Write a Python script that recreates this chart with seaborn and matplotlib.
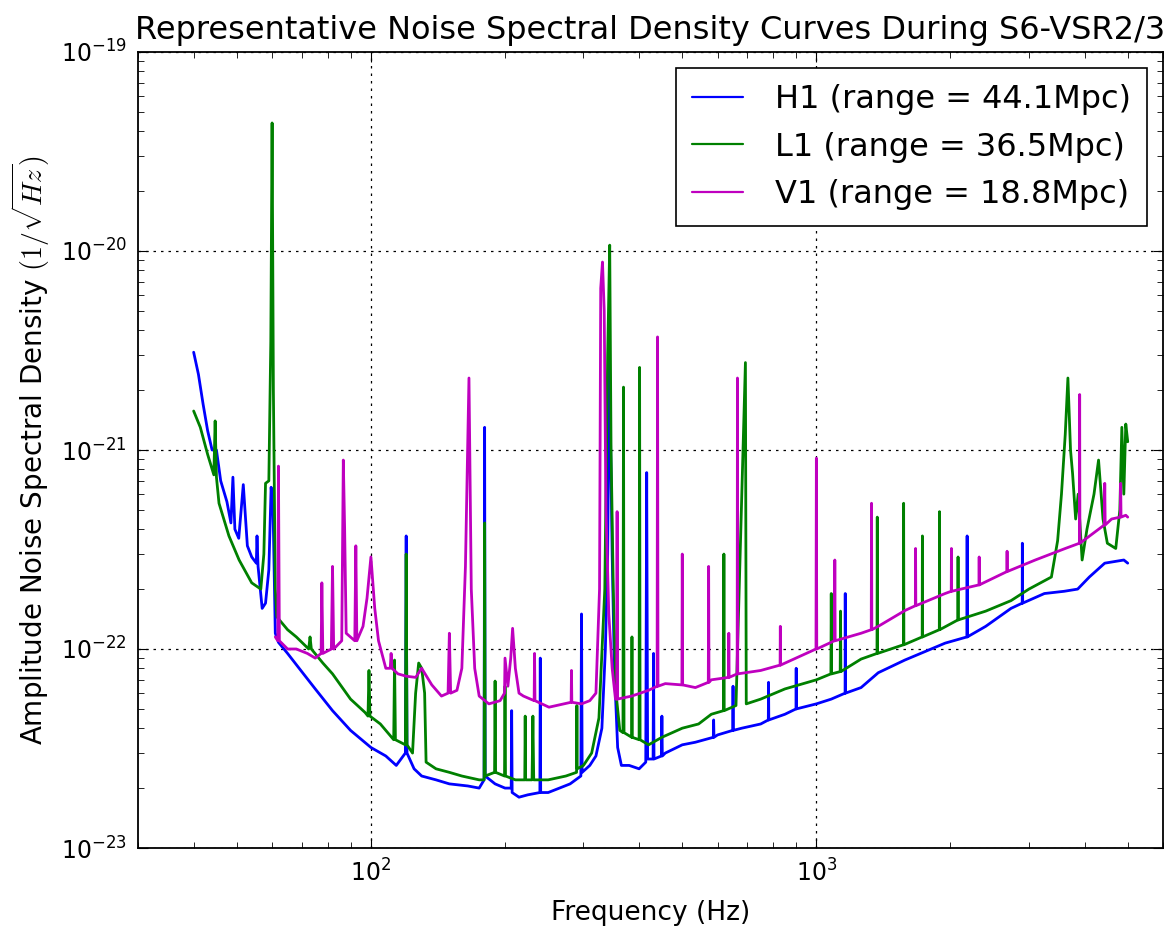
import numpy as np
import pandas as pd
import matplotlib
matplotlib.use("Agg")
import matplotlib.pyplot as plt
from matplotlib.ticker import NullFormatter
import seaborn as sns

# ---------------- data ----------------
h1_freq = [40, 41, 42, 43, 44, 45, 46, 47.5, 48.5, 49, 49.5, 50.5, 51.7, 52.8, 54, 55.3, 55.5, 55.8,
           57, 58, 59, 59.7, 60.3, 61, 62, 65, 69, 75, 82, 90, 100, 108, 114, 119.5, 120, 120.5,
           125, 130, 140, 150, 165, 175, 179.5, 180, 180.5, 190, 200, 206.5, 207, 207.5, 215, 225,
           239.5, 240, 240.5, 250, 265, 280, 296, 297, 298, 310, 320, 330, 336, 340, 343, 348, 352,
           358, 365, 380, 400, 414, 416, 418, 430, 431, 432, 449, 450, 451, 458, 500, 535, 587, 588,
           589, 600, 649, 650, 651, 680, 750, 780, 781, 782, 850, 900, 901, 902, 1000, 1080, 1160,
           1161, 1162.5, 1260, 1377, 1580, 1945, 2178, 2180, 2182, 2400, 2735, 2898, 2900, 2905,
           3250, 3600, 3860, 4100, 4440, 4900, 5000]
h1_asd = [3.1e-21, 2.4e-21, 1.7e-21, 1.25e-21, 1.0e-21, 1.0e-21, 7.0e-22, 5.5e-22, 4.3e-22, 7.3e-22,
          4.0e-22, 3.6e-22, 6.7e-22, 3.3e-22, 2.9e-22, 2.7e-22, 3.7e-22, 2.6e-22,
          1.6e-22, 1.7e-22, 2.5e-22, 6.5e-22, 5.0e-22, 1.2e-22, 1.08e-22, 9.5e-23, 8.0e-23, 6.3e-23,
          4.9e-23, 3.9e-23, 3.2e-23, 2.9e-23, 2.6e-23, 3.0e-23, 3.7e-22, 3.0e-23,
          2.5e-23, 2.3e-23, 2.2e-23, 2.1e-23, 2.05e-23, 2.0e-23, 2.2e-23, 1.3e-21, 2.3e-23, 2.1e-23,
          2.0e-23, 2.0e-23, 4.9e-23, 1.9e-23, 1.8e-23, 1.85e-23,
          1.9e-23, 9.0e-23, 1.9e-23, 1.9e-23, 2.0e-23, 2.1e-23, 2.3e-23, 1.5e-22, 2.4e-23, 2.6e-23,
          2.9e-23, 4.0e-23, 1.0e-22, 3.0e-22, 3.0e-21, 3.0e-22, 8.0e-23,
          3.2e-23, 2.6e-23, 2.6e-23, 2.5e-23, 2.7e-23, 7.7e-22, 2.8e-23, 2.8e-23, 9.5e-23, 2.8e-23,
          2.9e-23, 4.6e-23, 2.9e-23, 3.0e-23, 3.3e-23, 3.4e-23, 3.6e-23, 4.4e-23,
          3.6e-23, 3.7e-23, 3.9e-23, 6.5e-23, 3.9e-23, 4.0e-23, 4.2e-23, 4.4e-23, 6.8e-23, 4.4e-23,
          4.7e-23, 5.0e-23, 8.0e-23, 5.0e-23, 5.3e-23, 5.6e-23, 6.0e-23,
          1.9e-22, 6.0e-23, 6.4e-23, 7.6e-23, 8.8e-23, 1.07e-22, 1.15e-22, 3.7e-22, 1.15e-22, 1.3e-22,
          1.6e-22, 1.7e-22, 3.4e-22, 1.7e-22,
          1.9e-22, 1.95e-22, 2.0e-22, 2.3e-22, 2.7e-22, 2.8e-22, 2.7e-22]

l1_freq = [40, 41.4, 43, 44.4, 44.7, 45, 45.6, 48, 50.6, 54, 56.6, 57.5, 58, 59, 59.6, 60, 60.4, 61,
           61.5, 65, 68, 72.5, 73, 73.5, 78, 82, 90, 97, 98.5, 99, 99.5, 105, 112.5, 113, 113.5,
           119.5, 120, 120.5, 124, 126, 128, 130, 132, 133, 140, 150, 160, 175, 179.5, 180, 180.5,
           189.5, 190, 190.5, 199.5, 200, 200.5, 211, 221.5, 222, 222.5, 230, 231, 232, 250, 274,
           289.5, 290, 290.5, 300, 313, 325, 335, 340, 343.6, 346, 350, 355, 362, 368, 369, 370,
           385, 385.5, 386, 400, 401, 402, 420, 450, 500, 544, 581, 619, 620, 621, 660, 693, 696,
           750, 850, 1000, 1078, 1080, 1082, 1131, 1133, 1135, 1260, 1368, 1370, 1372, 1568, 1570,
           1572, 1728, 1730, 1732, 1888, 1890, 1892, 2078, 2080, 2082, 2400, 2735, 3000, 3370,
           3480, 3550, 3620, 3670, 3720, 3760, 3820, 3870, 3950, 4050, 4200, 4300, 4400, 4500,
           4700, 4800, 4850, 4900, 4950, 5000]
l1_asd = [1.57e-21, 1.3e-21, 9.5e-22, 7.5e-22, 1.4e-21, 7.3e-22, 5.4e-22, 3.7e-22, 2.8e-22, 2.15e-22,
          2.0e-22, 3.0e-22, 6.8e-22, 7.0e-22, 3.5e-21, 4.4e-20, 2.0e-21, 2.0e-22,
          1.45e-22, 1.25e-22, 1.15e-22, 1.0e-22, 1.15e-22, 1.0e-22, 8.5e-23, 7.5e-23, 5.6e-23, 4.8e-23,
          4.6e-23, 7.8e-23, 4.6e-23, 4.2e-23, 3.5e-23, 8.8e-23, 3.5e-23,
          3.3e-23, 3.0e-22, 3.3e-23, 3.0e-23, 6.0e-23, 8.5e-23, 8.0e-23, 6.0e-23, 2.7e-23, 2.5e-23,
          2.4e-23, 2.3e-23, 2.2e-23, 2.2e-23, 4.3e-22, 2.3e-23,
          2.4e-23, 6.9e-23, 2.4e-23, 2.3e-23, 6.5e-23, 2.3e-23, 2.2e-23, 2.2e-23, 4.6e-23, 2.2e-23,
          2.2e-23, 4.6e-23, 2.2e-23, 2.2e-23, 2.3e-23,
          2.4e-23, 5.2e-23, 2.5e-23, 2.6e-23, 3.0e-23, 4.5e-23, 2.0e-22, 3.0e-21, 1.07e-20, 1.0e-21,
          2.0e-22, 6.0e-23, 3.9e-23, 3.8e-23, 2.07e-21, 3.8e-23,
          3.6e-23, 1.15e-22, 3.6e-23, 3.5e-23, 2.6e-21, 3.5e-23, 3.3e-23, 3.6e-23, 4.0e-23, 4.2e-23,
          4.7e-23, 4.9e-23, 3.0e-22, 4.9e-23, 5.2e-23, 2.75e-21, 5.3e-23,
          5.6e-23, 6.3e-23, 7.0e-23, 7.5e-23, 1.9e-22, 7.5e-23, 7.7e-23, 1.55e-22, 7.7e-23, 8.9e-23,
          9.5e-23, 4.6e-22, 9.5e-23, 1.05e-22, 5.4e-22,
          1.05e-22, 1.15e-22, 3.7e-22, 1.15e-22, 1.25e-22, 4.9e-22, 1.25e-22, 1.4e-22, 2.9e-22,
          1.4e-22, 1.55e-22, 1.75e-22, 2.0e-22, 2.3e-22,
          3.5e-22, 6.0e-22, 1.2e-21, 2.3e-21, 1.0e-21, 7.6e-22, 4.5e-22, 6.0e-22, 2.8e-22, 4.0e-22,
          6.0e-22, 8.9e-22, 4.5e-22, 3.4e-22,
          3.2e-22, 5.0e-22, 1.3e-21, 6.0e-22, 1.35e-21, 1.1e-21]

v1_freq = [61, 61.8, 62, 62.3, 65, 68, 72, 75, 77.3, 77.6, 78, 81.5, 82, 82.5, 86, 86.7, 87.3, 88,
           92, 92.5, 93, 96, 98, 100, 102, 104, 108, 110.5, 111, 111.5, 115, 120, 126, 130, 137,
           144, 149, 150, 151, 156, 160, 163, 166, 168, 171, 175, 184, 195, 199.5, 200, 203, 206,
           208, 211, 215, 220, 232.5, 233, 233.5, 251, 281.5, 282, 282.5, 297, 310, 320, 326, 328,
           331, 334, 337, 342, 348, 354, 356.5, 357, 357.5, 385, 420, 439, 440, 441, 458, 499, 500,
           501, 535, 572, 573, 574, 581, 635, 636, 637, 664, 665, 666, 750, 829, 830, 831, 900,
           998, 1000, 1002, 1098, 1100, 1102, 1260, 1328, 1330, 1332, 1377, 1580, 1668, 1670,
           1672, 1945, 2008, 2010, 2012, 2318, 2320, 2322, 2678, 2680, 2682, 3100, 3620, 3895,
           3900, 3905, 4430, 4440, 4450, 4600, 4810, 4820, 4830, 4950, 5000]
v1_asd = [1.15e-22, 1.1e-22, 8.3e-22, 1.1e-22, 1.0e-22, 1.0e-22, 9.5e-23, 9.0e-23, 9.5e-23, 2.15e-22,
          9.5e-23, 1.0e-22, 2.6e-22, 1.0e-22, 1.1e-22, 8.9e-22, 4.0e-22, 1.2e-22,
          1.1e-22, 3.3e-22, 1.1e-22, 1.3e-22, 1.8e-22, 2.9e-22, 1.6e-22, 1.1e-22, 8.0e-23, 8.0e-23,
          9.5e-23, 8.0e-23, 7.5e-23, 7.3e-23, 7.2e-23, 8.0e-23, 6.6e-23,
          5.8e-23, 6.0e-23, 1.2e-22, 6.0e-23, 6.2e-23, 8.0e-23, 2.6e-22, 2.3e-21, 2.0e-22, 8.0e-23,
          5.8e-23, 5.3e-23, 5.5e-23, 6.0e-23, 9.0e-23, 6.5e-23, 9.0e-23,
          1.27e-22, 8.0e-23, 6.0e-23, 5.8e-23, 5.5e-23, 9.5e-23, 5.5e-23, 5.1e-23, 5.4e-23, 7.8e-23,
          5.4e-23, 5.3e-23, 5.5e-23, 6.0e-23, 2.0e-22, 6.5e-21,
          8.8e-21, 5.0e-21, 5.0e-22, 1.5e-22, 8.0e-23, 5.6e-23, 5.6e-23, 4.9e-22, 5.6e-23, 5.8e-23,
          6.2e-23, 6.5e-23, 3.7e-21, 6.5e-23, 6.7e-23, 6.6e-23, 3.0e-22,
          6.6e-23, 6.4e-23, 6.8e-23, 2.6e-22, 6.8e-23, 7.0e-23, 7.2e-23, 1.2e-22, 7.2e-23, 7.5e-23,
          2.3e-21, 7.5e-23, 7.8e-23, 8.3e-23, 1.3e-22, 8.3e-23, 9.0e-23,
          1.0e-22, 9.1e-22, 1.0e-22, 1.1e-22, 2.8e-22, 1.1e-22, 1.2e-22, 1.25e-22, 5.4e-22, 1.25e-22,
          1.3e-22, 1.56e-22, 1.65e-22, 3.2e-22,
          1.65e-22, 1.9e-22, 1.95e-22, 3.2e-22, 1.95e-22, 2.1e-22, 2.9e-22, 2.1e-22, 2.45e-22,
          3.1e-22, 2.45e-22, 2.8e-22, 3.2e-22, 3.4e-22,
          1.9e-21, 3.4e-22, 4.2e-22, 6.8e-22, 4.2e-22, 4.5e-22, 4.6e-22, 6.8e-22, 4.6e-22, 4.7e-22,
          4.6e-22]

labels = ["H1 (range = 44.1Mpc)", "L1 (range = 36.5Mpc)", "V1 (range = 18.8Mpc)"]
colors = ["#0000ff", "#008000", "#bf00bf"]
x_major_ticks = [100, 1000]
y_major_ticks = [1e-23, 1e-22, 1e-21, 1e-20, 1e-19]

# ---------------- build table ----------------
frames = []
for lab, fr, asd in zip(labels, [h1_freq, l1_freq, v1_freq], [h1_asd, l1_asd, v1_asd]):
    frames.append(pd.DataFrame({"freq": fr, "asd": asd, "det": lab}))
df = pd.concat(frames, ignore_index=True)

sns.set_style("ticks")
plt.rcParams.update({
    "font.family": ["DejaVu Sans"],
    "text.color": "black", "axes.labelcolor": "black",
    "xtick.direction": "in", "ytick.direction": "in",
    "xtick.top": True, "ytick.right": True,
    "xtick.major.size": 7, "ytick.major.size": 7,
    "xtick.minor.size": 4, "ytick.minor.size": 4,
    "xtick.minor.visible": True, "ytick.minor.visible": True,
    "axes.edgecolor": "black", "axes.linewidth": 1.3,
    "xtick.color": "black", "ytick.color": "black",
})

fig = plt.figure(figsize=(11.75, 9.32), dpi=100)
ax = fig.add_axes([138/1175, 1 - 848/932, (1163-138)/1175, (848-52)/932])

sns.lineplot(data=df, x="freq", y="asd", hue="det", palette=dict(zip(labels, colors)),
             estimator=None, sort=False, lw=2.0, ax=ax, legend=True)

ax.set_xscale("log")
ax.set_yscale("log")
ax.set_xlim(30, 6000)
ax.set_ylim(1e-23, 1e-19)
ax.set_xticks(x_major_ticks)
ax.set_yticks(y_major_ticks)
ax.xaxis.set_minor_formatter(NullFormatter())
ax.yaxis.set_minor_formatter(NullFormatter())
ax.grid(True, which="major", color="black", linestyle=(0, (2, 4)), linewidth=0.9)
ax.tick_params(axis="both", which="major", labelsize=17, pad=8)

ax.set_title("Representative Noise Spectral Density Curves During S6-VSR2/3",
             fontsize=23, pad=9, color="black")
ax.set_xlabel("Frequency (Hz)", fontsize=19, labelpad=10, color="black")
ax.set_ylabel(r"Amplitude Noise Spectral Density $(1/\sqrt{Hz})$", fontsize=20,
              math_fontfamily="cm", labelpad=6, color="black")

leg = ax.legend(loc="upper right", fontsize=23, frameon=True, fancybox=False,
                edgecolor="black", framealpha=1, handlelength=1.6, handletextpad=1.0,
                labelspacing=0.52, borderpad=0.5, borderaxespad=0.5)
leg.get_frame().set_linewidth(1.2)
for text in leg.get_texts():
    text.set_color("black")
for line in leg.get_lines():
    line.set_linewidth(1.6)

fig.savefig("out.png", dpi=100)
